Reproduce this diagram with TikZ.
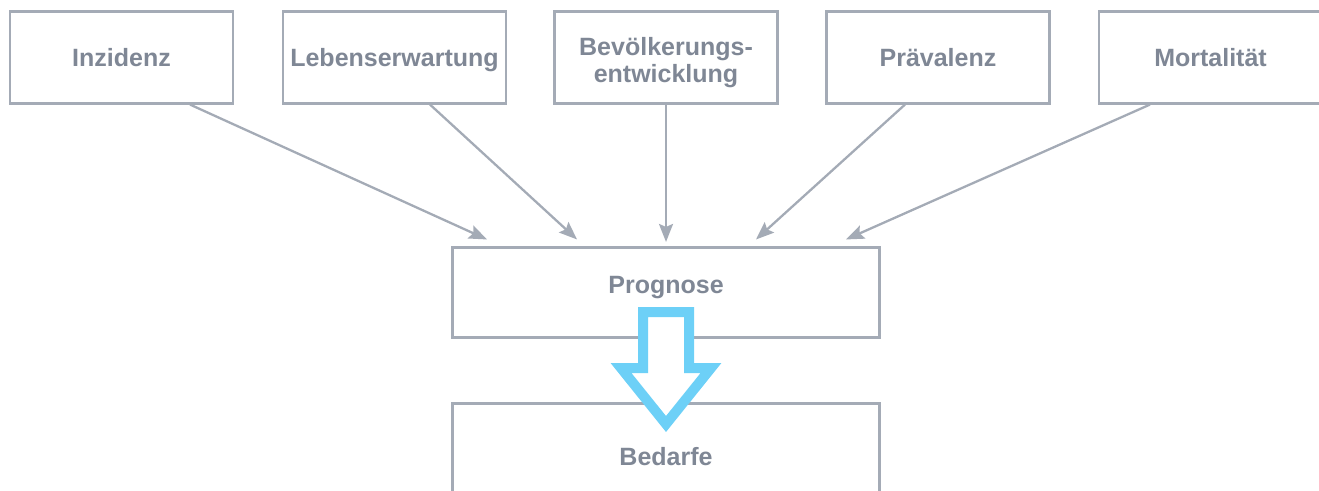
\documentclass[tikz,border=0pt]{standalone}
\usepackage{fontspec}
\setmainfont{Liberation Sans}
\usetikzlibrary{arrows.meta}
\definecolor{boxline}{HTML}{A4ABB6}
\definecolor{txt}{HTML}{7F8795}
\definecolor{bigblue}{HTML}{6DD0F7}
\begin{document}
\begin{tikzpicture}[x=1pt,y=-1pt,
  box/.style={draw=boxline, line width=2.6pt, fill=white, inner sep=0pt, minimum width=223pt, minimum height=91.5pt},
  widebox/.style={box, minimum width=427.5pt, minimum height=90.5pt},
  lbl/.style={text=txt, font=\fontsize{25}{26.5}\selectfont\bfseries, inner sep=0pt, anchor=base, align=center},
  conn/.style={draw=boxline, line width=2.3pt, -{Stealth[length=18pt,width=14pt,inset=3pt]}},
  bigarrow/.style={draw=bigblue, line width=10pt, fill=white, line join=miter}]
\useasboundingbox (0,0) rectangle (1319,490);
\clip (0,0) rectangle (1319,490);
% top boxes
\node[box] (inz) at (121.5,57.5) {};
\node[box] (leb) at (394.5,57.5) {};
\node[box] (bev) at (666,57.5) {};
\node[box] (prae) at (938,57.5) {};
\node[box] (mort) at (1210.5,57.5) {};
\node[lbl] (tinz) at (121.5,66) {Inzidenz};
\node[lbl] (tleb) at (394.5,66) {Lebenserwartung};
\node[lbl] (tbev) at (666,82) {Bevölkerungs-\\entwicklung};
\node[lbl] (tprae) at (938,66) {Prävalenz};
\node[lbl] (tmort) at (1210.5,66) {Mortalität};
% middle and bottom boxes
\node[widebox] (prog) at (666,292.5) {};
\node[lbl] (tprog) at (666,293) {Prognose};
\node[widebox] (bed) at (666,448.5) {};
\node[lbl] (tbed) at (666,465) {Bedarfe};
% connectors
\draw[conn] ([xshift=68.5pt]inz.south) -- ([xshift=-179pt,yshift=6.5pt]prog.north);
\draw[conn] ([xshift=35.5pt]leb.south) -- ([xshift=-89pt,yshift=6.5pt]prog.north);
\draw[conn] (bev.south) -- ([yshift=4pt]prog.north);
\draw[conn] ([xshift=-33pt]prae.south) -- ([xshift=90pt,yshift=6.5pt]prog.north);
\draw[conn] ([xshift=-60.5pt]mort.south) -- ([xshift=180pt,yshift=6.5pt]prog.north);
% big hollow arrow
\draw[bigarrow] (643,312) -- (689,312) -- (689,368) -- (711,368) -- (666,424) -- (621,368) -- (643,368) -- cycle;
\end{tikzpicture}
\end{document}
